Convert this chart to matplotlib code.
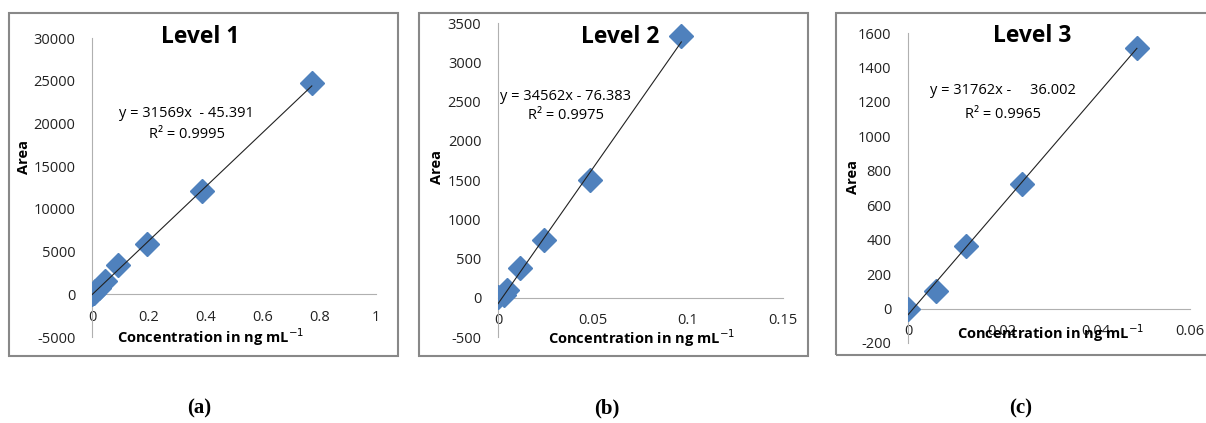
import matplotlib
matplotlib.use('Agg')
import matplotlib.pyplot as plt
from matplotlib.patches import Rectangle
import numpy as np

# data
conc1 = [0, 0.006, 0.012, 0.024, 0.046, 0.09, 0.195, 0.387, 0.774]
area1 = [0, 150, 350, 750, 1600, 3400, 5900, 12050, 24700]
conc2 = [0, 0.003, 0.0047, 0.0118, 0.024, 0.0486, 0.0965]
area2 = [10, 40, 98, 385, 735, 1500, 3330]
conc3 = [0, 0.006, 0.0123, 0.0243, 0.0487]
area3 = [0, 100, 366, 725, 1515]

titles = ['Level 1', 'Level 2', 'Level 3']
eqs = ['y = 31569x  - 45.391', 'y = 34562x - 76.383', 'y = 31762x -     36.002']
r2s = ['R² = 0.9995', 'R² = 0.9975', 'R² = 0.9965']
slopes = [31569, 34562, 31762]
icepts = [-45.391, -76.383, -36.002]
captions = ['(a)', '(b)', '(c)']

plt.rcParams['axes.unicode_minus'] = False

W, H = 1206, 423
fig = plt.figure(figsize=(W / 100, H / 100), dpi=100)
fnt = ['Open Sans', 'DejaVu Sans']
blue = '#4F81BD'
gray = '#888888'

def fx(px):
    return px / W

def fy(py):
    return 1 - py / H

# pixel boxes: (left, right, top, bottom) of each plot area
boxes = [(92, 376, 38, 337), (498, 783, 23, 337), (908, 1190, 33, 343)]
xlims = [(0, 1), (0, 0.15), (0, 0.06)]
ylims = [(-5000, 30000), (-500, 3500), (-200, 1600)]
xticks = [[0, 0.2, 0.4, 0.6, 0.8, 1], [0, 0.05, 0.1, 0.15], [0, 0.02, 0.04, 0.06]]
xtlabels = [['0', '0.2', '0.4', '0.6', '0.8', '1'], ['0', '0.05', '0.1', '0.15'],
            ['0', '0.02', '0.04', '0.06']]
yticks = [np.arange(-5000, 30001, 5000), np.arange(-500, 3501, 500), np.arange(-200, 1601, 200)]
frames = [(9, 398, 13, 356), (419, 808, 13, 356), (836, 1215, 13, 355)]
title_pos = [(200, 37), (620, 37), (1032, 36)]
eq_pos = [(186, 113), (566, 96), (1003, 91)]
r2_pos = [(187, 135), (566, 115), (1003, 114)]
xlab_pos = [(211, 337), (642, 338), (1051, 333)]
ylab_pos = [(24, 157), (437, 167), (853, 177)]
cap_pos = [(199, 408), (607, 408), (1021, 408)]

data = [(conc1, area1), (conc2, area2), (conc3, area3)]

for i in range(3):
    l, r, t, b = boxes[i]
    ax = fig.add_axes([fx(l), fy(b), fx(r - l), (b - t) / H])
    xs, ys = data[i]
    ax.plot(xs, ys, linestyle='none', marker='D', markersize=12, color=blue, zorder=3)
    xx = np.array([0, max(xs)])
    ax.plot(xx, slopes[i] * xx + icepts[i], color='#222222', lw=0.8, zorder=4)
    ax.set_xlim(*xlims[i])
    ax.set_ylim(*ylims[i])
    ax.set_xticks(xticks[i])
    ax.set_xticklabels(xtlabels[i])
    ax.set_yticks(yticks[i])
    for s in ['top', 'right']:
        ax.spines[s].set_visible(False)
    ax.spines['bottom'].set_position(('data', 0))
    ax.spines['bottom'].set_color('#b0b0b0')
    ax.spines['left'].set_color('#b0b0b0')
    ax.tick_params(length=0, labelsize=10.5, colors='#222222')
    ax.tick_params(axis='x', pad=11)
    ax.tick_params(axis='y', pad=12)
    for lab in ax.get_xticklabels() + ax.get_yticklabels():
        lab.set_family(fnt)
    ax.patch.set_alpha(0)

    # frame around each chart
    fl, fr, ft, fb = frames[i]
    fig.add_artist(Rectangle((fx(fl), fy(fb)), fx(fr - fl), (fb - ft) / H,
                             transform=fig.transFigure, fill=False,
                             edgecolor=gray, lw=1.5, clip_on=False))

    fig.text(fx(title_pos[i][0]), fy(title_pos[i][1]), titles[i], family=fnt,
             fontweight='bold', fontsize=16.5, ha='center', va='center')
    fig.text(fx(eq_pos[i][0]), fy(eq_pos[i][1]), eqs[i], family=fnt,
             fontsize=10.5, ha='center', va='center')
    fig.text(fx(r2_pos[i][0]), fy(r2_pos[i][1]), r2s[i], family=fnt,
             fontsize=10.5, ha='center', va='center')
    fig.text(fx(xlab_pos[i][0]), fy(xlab_pos[i][1]), 'Concentration in ng mL$^{-1}$',
             family=fnt, fontweight='bold', fontsize=10.5, ha='center', va='center')
    fig.text(fx(ylab_pos[i][0]), fy(ylab_pos[i][1]), 'Area', family=fnt,
             fontweight='bold', fontsize=10.5, ha='center', va='center', rotation=90)
    fig.text(fx(cap_pos[i][0]), fy(cap_pos[i][1]), captions[i], family='Liberation Serif',
             fontweight='bold', fontsize=15, ha='center', va='center')

fig.savefig('out.png', dpi=100)
